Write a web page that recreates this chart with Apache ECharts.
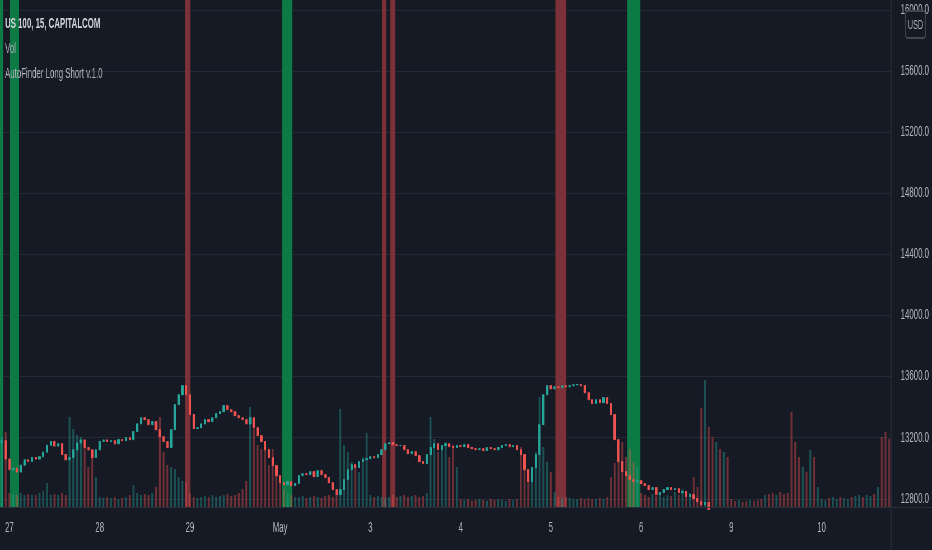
<!DOCTYPE html>
<html>
<head>
<meta charset="utf-8">
<title>US 100, 15, CAPITALCOM</title>
<script src="https://cdn.jsdelivr.net/npm/echarts@6/dist/echarts.min.js"></script>
<style>
    html, body { margin: 0; padding: 0; background: #161a25; overflow: hidden; }
    /* the screenshot is squeezed sideways, so draw wide and squeeze it back */
    #chart { width: 1664px; height: 550px; transform: scaleX(0.5601); transform-origin: 0 0; }
</style>
</head>
<body>
<div id="chart"></div>
<script>
'use strict';

// 日期标签 (one per trading day, first day only shows its last two hours)
var dayLabels = ['26', '27', '28', '29', 'May', '3', '4', '5', '6', '9', '10'];
var firstHour = 22;
var lastHour = 18;

// hourly closes (after May 9 the price runs below the pane)
var firstOpen = 13170;
var closes = [
    13180, 13060, 12990, 13000, 12975, 13020, 13055, 13045, 13070, 13060,
    13075, 13105, 13150, 13175, 13145, 13160, 13090, 13055, 13070, 13120,
    13165, 13185, 13135, 13120, 13070, 13120, 13175, 13185, 13175, 13180,
    13160, 13187, 13180, 13200, 13187, 13240, 13290, 13330, 13318, 13285,
    13305, 13252, 13207, 13174, 13135, 13252, 13416, 13481, 13540, 13481,
    13351, 13260, 13265, 13290, 13318, 13305, 13330, 13357, 13370, 13410,
    13383, 13370, 13344, 13330, 13318, 13290, 13330, 13265, 13213, 13174,
    13121, 13069, 13017, 12951, 12905, 12892, 12912, 12886, 12900, 12951,
    12964, 12958, 12977, 12945, 12984, 12958, 12938, 12905, 12860, 12827,
    12860, 12925, 12990, 13023, 13004, 13043, 13056, 13062, 13075, 13069,
    13089, 13121, 13160, 13167, 13154, 13148, 13148, 13121, 13095, 13108,
    13082, 13043, 13030, 13089, 13135, 13160, 13121, 13148, 13160, 13141,
    13135, 13148, 13141, 13154, 13135, 13128, 13121, 13128, 13115, 13135,
    13128, 13121, 13135, 13148, 13154, 13141, 13148, 13121, 13089, 12990,
    12912, 13004, 13089, 13285, 13481, 13540, 13520, 13533, 13527, 13540,
    13533, 13540, 13547, 13547, 13540, 13494, 13448, 13423, 13448, 13429,
    13462, 13423, 13351, 13187, 13043, 12977, 12951, 12925, 12912, 12918,
    12899, 12886, 12860, 12873, 12827, 12840, 12860, 12873, 12860, 12866,
    12840, 12847, 12814, 12827, 12801, 12781, 12761, 12775, 12730, 12690,
    12710, 12660, 12680, 12640, 12620, 12600, 12610, 12580, 12570, 12575,
    12550, 12540, 12530, 12545, 12520, 12500, 12510, 12480, 12470, 12460,
    12400, 12360, 12330, 12370, 12350, 12400, 12380, 12390, 12400, 12410,
    12395, 12420, 12430, 12415, 12440, 12450, 12435, 12460, 12470, 12455,
    12480, 12490, 12475, 12500, 12450, 12420, 12400
];

// hourly volume (k)
var volumes = [
    70, 75, 14, 12, 12, 14, 12, 13, 12, 12,
    14, 16, 24, 12, 13, 12, 14, 12, 90, 78,
    72, 70, 60, 40, 55, 30, 10, 9, 10, 9,
    10, 8, 9, 10, 12, 22, 14, 12, 13, 12,
    14, 20, 90, 55, 42, 40, 38, 30, 26, 25,
    14, 10, 9, 10, 11, 10, 12, 10, 11, 12,
    13, 11, 12, 14, 18, 26, 100, 78, 62, 58,
    60, 42, 58, 35, 25, 18, 14, 12, 10, 10,
    11, 9, 10, 11, 10, 9, 11, 12, 10, 14,
    98, 62, 55, 45, 42, 35, 50, 74, 12, 10,
    11, 10, 9, 10, 12, 10, 11, 12, 10, 11,
    12, 10, 11, 14, 90, 68, 55, 60, 65, 50,
    62, 40, 8, 7, 8, 6, 7, 8, 7, 6,
    8, 7, 8, 7, 6, 8, 7, 8, 60, 45,
    35, 30, 55, 110, 60, 45, 35, 15, 10, 9,
    10, 9, 8, 8, 9, 8, 9, 8, 8, 9,
    8, 10, 30, 44, 54, 65, 50, 58, 45, 40,
    14, 12, 10, 13, 11, 12, 10, 12, 11, 15,
    12, 18, 10, 14, 30, 20, 99, 127, 80, 70,
    65, 58, 55, 50, 8, 6, 7, 5, 6, 7,
    6, 7, 8, 12, 13, 14, 12, 15, 13, 14,
    95, 65, 50, 40, 35, 57, 50, 20, 8, 7,
    9, 10, 8, 10, 9, 8, 10, 11, 12, 10,
    12, 11, 13, 20, 70, 75, 68
];

// AutoFinder signals: [start bar, end bar, side]
var signals = [
    [0, 0.8, 'long'],
    [2.66, 5.06, 'long'],
    [49.2, 50.6, 'short'],
    [75.0, 77.7, 'long'],
    [101.6, 102.7, 'short'],
    [103.8, 105.1, 'short'],
    [147.7, 150.6, 'short'],
    [166.8, 170.3, 'long']
];

// price scale ticks
var priceMin = 12800;
var priceMax = 16000;
var priceStep = 400;
// visible price range of the pane
var paneLow = 12746;
var paneHigh = 16065;
var volumeTop = 507;

var UP = '#26a69a';
var DOWN = '#ef5350';
var TEXT = '#b2b5be';
var LINE = '#2a2e39';
var BG = '#161a25';

var categories = [];
dayLabels.forEach(function(d, k){
    var h0 = k === 0 ? firstHour : 0;
    var h1 = k === dayLabels.length - 1 ? lastHour : 23;
    for (var h = h0; h <= h1; h++) {
        categories.push(d + ' ' + (h < 10 ? '0' + h : h) + ':00');
    }
});

var candles = [];
var volBars = [];
closes.forEach(function(c, i){
    var o = i ? closes[i - 1] : firstOpen;
    candles.push([o, c, Math.min(o, c), Math.max(o, c)]);
    volBars.push({
        value: volumes[i],
        itemStyle: { color: c >= o ? 'rgba(38,166,154,0.4)' : 'rgba(239,83,80,0.4)' }
    });
});

var W = 1664;
var gridRight = 73;
var paneBox = { left: 0, right: gridRight, top: 0, bottom: 43 };

var chart = echarts.init(document.getElementById('chart'));

chart.setOption({
    backgroundColor: BG,
    animation: false,
    grid: [
        paneBox,
        paneBox,
        { left: 0, right: gridRight, top: 10, bottom: 51.2 }
    ],
    xAxis: [
        {
            type: 'category', gridIndex: 0, data: categories, boundaryGap: true,
            axisLine: { show: false }, axisTick: { show: false }, splitLine: { show: false },
            axisLabel: {
                interval: 0, margin: 14, color: TEXT, fontSize: 14, fontFamily: 'Liberation Sans',
                formatter: function(v){ return /00:00$/.test(v) ? v.split(' ')[0] : ''; }
            }
        },
        { type: 'value', gridIndex: 1, min: 0, max: categories.length, show: false },
        { type: 'value', gridIndex: 2, min: 0, max: 1, show: false }
    ],
    yAxis: [
        { type: 'value', gridIndex: 0, min: paneLow, max: paneHigh, show: false },
        { type: 'value', gridIndex: 0, min: 0, max: volumeTop, show: false },
        { type: 'value', gridIndex: 1, min: 0, max: 1, show: false },
        {
            type: 'value', gridIndex: 2, position: 'right',
            min: priceMin, max: priceMax, interval: priceStep,
            axisLine: { show: false }, axisTick: { show: false },
            splitLine: { lineStyle: { color: '#252935', width: 1 } },
            axisLabel: {
                margin: 17, color: TEXT, fontSize: 14, fontFamily: 'Liberation Sans',
                formatter: function(v){ return v.toFixed(1); }
            }
        }
    ],
    series: [
        {
            name: 'AutoFinder Long Short v.1.0',
            type: 'custom',
            xAxisIndex: 1, yAxisIndex: 2,
            z: 1,
            data: signals.map(function(s){ return [s[0], s[1]]; }),
            renderItem: function(params, api){
                var p0 = api.coord([api.value(0), 1]);
                var p1 = api.coord([api.value(1), 0]);
                var side = signals[params.dataIndex][2];
                return {
                    type: 'rect',
                    shape: { x: p0[0], y: p0[1], width: p1[0] - p0[0], height: p1[1] - p0[1] },
                    style: { fill: side === 'long' ? '#0d7a45' : '#7b3137' }
                };
            }
        },
        {
            name: 'Vol',
            type: 'bar',
            xAxisIndex: 0, yAxisIndex: 1,
            z: 2,
            barWidth: 3.5,
            data: volBars
        },
        {
            name: 'US 100',
            type: 'candlestick',
            xAxisIndex: 0, yAxisIndex: 0,
            z: 3,
            clip: true,
            barWidth: '55%',
            itemStyle: { color: UP, color0: DOWN, borderColor: UP, borderColor0: DOWN, borderWidth: 1 },
            data: candles
        }
    ],
    graphic: [
        { type: 'line', silent: true, z: 100, shape: { x1: 0, y1: 507.5, x2: W, y2: 507.5 }, style: { stroke: LINE, lineWidth: 1 } },
        { type: 'line', silent: true, z: 100, shape: { x1: W - gridRight, y1: 0, x2: W - gridRight, y2: 550 }, style: { stroke: LINE, lineWidth: 1.8 } },
        { type: 'rect', silent: true, z: 100, shape: { x: 1617, y: 11, width: 35, height: 27, r: 3 }, style: { fill: BG, stroke: '#434651', lineWidth: 1.8 } },
        { type: 'text', silent: true, z: 101, x: 1634.5, y: 25, style: { text: 'USD', fill: TEXT, font: '13px "Liberation Sans"', align: 'center', verticalAlign: 'middle' } },
        { type: 'text', silent: true, z: 101, x: 9, y: 24, style: { text: 'US 100, 15, CAPITALCOM', fill: '#d1d4dc', font: 'bold 14px "Liberation Sans"', verticalAlign: 'middle' } },
        { type: 'text', silent: true, z: 101, x: 9, y: 49, style: { text: 'Vol', fill: TEXT, font: '14px "Liberation Sans"', verticalAlign: 'middle' } },
        { type: 'text', silent: true, z: 101, x: 9, y: 74, style: { text: 'AutoFinder Long Short v.1.0', fill: TEXT, font: '14px "Liberation Sans"', verticalAlign: 'middle' } }
    ]
});
</script>
</body>
</html>
